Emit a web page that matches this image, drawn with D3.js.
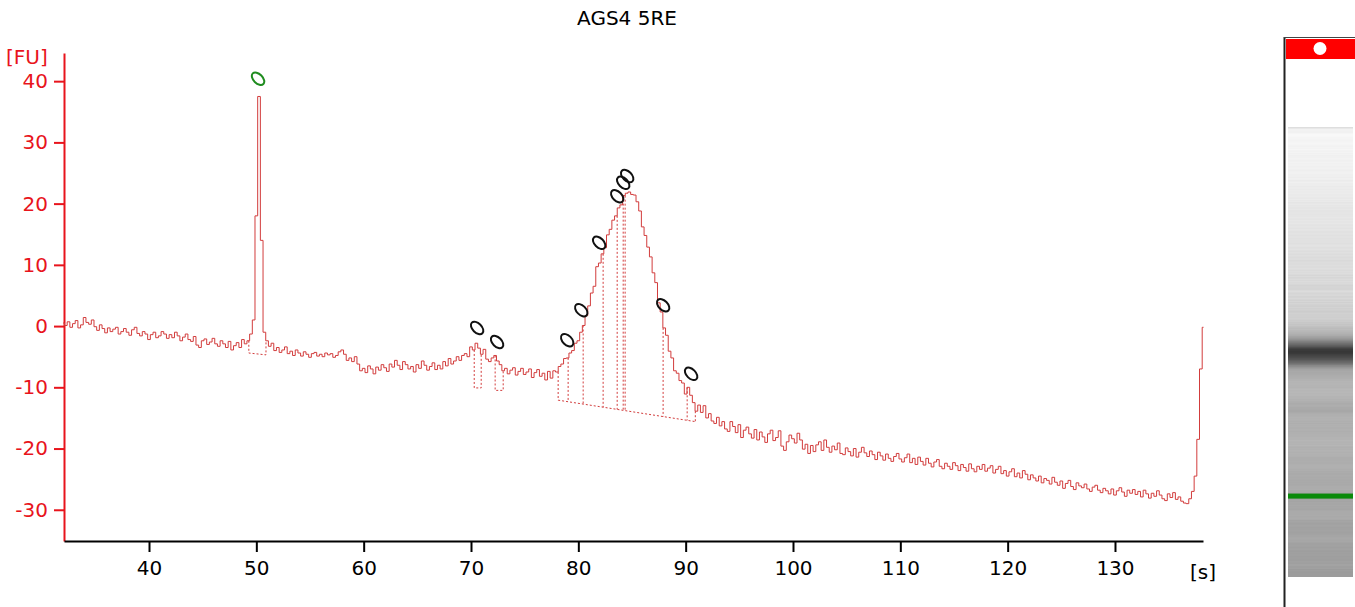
<!DOCTYPE html>
<html>
<head>
<meta charset="utf-8">
<script src="https://cdn.jsdelivr.net/npm/d3@7"></script>
<style>
  html, body { margin: 0; padding: 0; background: #ffffff; }
  svg { display: block; }
  text { font-family: "DejaVu Sans", Verdana, sans-serif; }
</style>
</head>
<body>
<svg id="chart" width="1355" height="607"></svg>
<script>
// ---------------- DATA ----------------
const title = "AGS4 5RE";
const startTime = 32.0;      // seconds, first sample
const sampleStep = 0.25;     // seconds between samples
const fu = [
  0.5, 0.1, 0.7, -0.2, 0.4, 0.9, -0.3, 0.2, 1.4, 0.6, 0.3, 1.0, -0.1, -0.7, 0.2, -0.4, -1.1, -0.3, -0.9, -0.5,
  -0.2, -1.3, -0.9, -0.4, -1.0, -1.5, -0.6, -0.2, -1.2, -1.6, -0.9, -1.3, -2.2, -1.4, -1.0, -1.9, -1.6, -0.9, -1.3, -2.0,
  -1.4, -1.9, -1.0, -1.6, -2.4, -1.8, -1.3, -2.2, -2.5, -1.7, -3.1, -3.5, -2.4, -2.1, -3.0, -2.6, -2.0, -2.9, -3.3, -2.4,
  -2.9, -3.5, -2.5, -3.9, -3.2, -2.7, -3.5, -2.2, -2.9, -2.4, -1.3, 1.0, 18.0, 37.5, 14.0, -1.0, -2.4, -3.3, -2.8, -4.0,
  -3.5, -4.3, -3.9, -3.4, -4.5, -4.1, -4.8, -3.9, -4.4, -4.9, -4.2, -4.6, -5.1, -4.5, -4.3, -4.9, -4.6, -5.0, -4.4, -4.7,
  -4.5, -5.1, -4.8, -4.2, -3.9, -4.6, -5.6, -5.2, -5.8, -5.0, -6.2, -7.3, -6.9, -7.6, -6.5, -7.0, -7.8, -6.7, -7.2, -6.3,
  -6.8, -7.4, -6.2, -6.7, -5.6, -6.4, -7.1, -5.8, -6.3, -7.0, -6.6, -7.5, -6.3, -6.9, -5.7, -6.4, -7.2, -6.6, -6.0, -7.1,
  -6.4, -7.0, -5.8, -6.5, -5.3, -6.2, -5.7, -5.0, -5.6, -4.8, -4.5, -5.0, -3.4, -3.9, -2.8, -3.6, -4.6, -3.8, -5.4, -5.8,
  -5.2, -4.8, -5.7, -6.3, -7.3, -6.9, -7.8, -7.2, -6.8, -8.0, -7.4, -6.9, -7.9, -7.5, -7.0, -8.4, -7.6, -7.1, -8.2, -7.7,
  -8.8, -7.4, -8.5, -7.3, -7.5, -6.6, -6.2, -5.3, -5.2, -4.4, -4.0, -2.8, -2.4, -1.0, 0.1, 1.7, 3.3, 5.4, 6.5, 9.7,
  10.3, 11.8, 12.8, 14.9, 15.8, 17.3, 18.0, 19.3, 19.8, 21.3, 21.7, 21.9, 21.5, 21.4, 20.3, 18.8, 16.2, 14.8, 12.9, 11.3,
  8.7, 7.1, 3.8, 2.3, -0.3, -1.5, -4.1, -5.2, -7.3, -7.7, -8.9, -9.3, -11.1, -10.0, -11.3, -12.5, -13.9, -12.9, -14.1, -13.0,
  -15.0, -14.3, -15.5, -15.9, -14.9, -16.3, -15.6, -16.8, -17.2, -15.6, -16.4, -17.4, -16.1, -18.2, -17.0, -16.5, -17.6, -18.3, -16.9, -18.6,
  -17.3, -18.1, -19.0, -17.6, -17.0, -18.7, -18.2, -17.1, -19.6, -20.3, -18.9, -17.8, -18.4, -19.1, -17.5, -18.6, -20.1, -19.3, -20.8, -19.5,
  -20.5, -19.4, -18.9, -20.3, -18.6, -19.8, -20.6, -19.6, -20.2, -19.1, -20.8, -21.0, -19.9, -20.5, -21.2, -20.0, -21.4, -20.6, -19.8, -20.7,
  -21.3, -20.4, -21.0, -21.8, -20.6, -21.2, -21.9, -20.9, -21.6, -22.1, -21.3, -20.8, -21.7, -22.2, -21.5, -20.9, -22.3, -21.6, -22.6, -21.4,
  -22.1, -22.7, -21.6, -22.4, -23.0, -22.2, -21.8, -22.9, -23.3, -22.4, -22.9, -23.4, -22.3, -22.8, -23.6, -22.6, -23.1, -23.7, -22.5, -23.3,
  -23.8, -22.9, -23.4, -22.6, -23.7, -23.2, -22.8, -24.0, -23.4, -22.9, -24.1, -23.6, -24.5, -23.8, -23.3, -24.6, -24.0, -24.8, -23.6, -24.2,
  -25.1, -24.3, -24.8, -25.3, -24.5, -25.6, -24.9, -25.2, -25.8, -24.7, -25.5, -26.0, -25.3, -26.5, -25.7, -25.2, -26.2, -26.7, -25.6, -26.1,
  -26.4, -25.8, -26.6, -27.0, -26.3, -26.0, -26.8, -27.2, -26.5, -26.9, -27.4, -26.6, -27.6, -26.9, -26.4, -27.1, -27.8, -26.8, -27.3, -26.7,
  -27.5, -27.0, -27.9, -26.8, -27.4, -28.1, -27.3, -27.8, -26.9, -27.6, -28.2, -28.5, -27.4, -28.0, -27.2, -28.3, -27.9, -28.6, -28.9, -29.0,
  -28.2, -27.0, -24.5, -18.5, -7.0, -0.2
];

const xTicks = [40, 50, 60, 70, 80, 90, 100, 110, 120, 130];
const yTicks = [-30, -20, -10, 0, 10, 20, 30, 40];
const xUnit = "[s]";
const yUnit = "[FU]";

// single-peak integration boxes (start, end, baseline at start, baseline at end)
const boxStart = [49.3, 70.3, 72.25];
const boxEnd   = [50.9, 70.95, 73.0];
const boxBaseStart = [-4.4, -10.1, -10.5];
const boxBaseEnd   = [-4.7, -10.1, -10.5];

// cluster of split peaks with a common baseline
const clusterCuts = [78.12, 79.05, 80.45, 82.31, 83.62, 84.18, 84.36, 87.9, 90.14, 90.9];
const clusterBaseStart = -12.1;
const clusterBaseEnd = -15.6;

// peak markers
const ladderMarkerTime = [50.16];
const ladderMarkerFU = [40.4];
const peakMarkerTime = [70.57, 72.43, 78.96, 80.27, 81.94, 83.62, 84.18, 84.55, 87.9, 90.51];
const peakMarkerFU   = [-0.3, -2.6, -2.3, 2.6, 13.6, 21.2, 23.4, 24.5, 3.4, -7.8];

// gel lane
const gelTimeRange = [30.7, 138.6];
const gelEndTime = 137.3;
const gelFUStops = [-29, -20, -10, 0, 22];
const gelGreys = ["#f8f8f8", "#dadada", "#bababa", "#9e9e9e", "#383838"];
const ladderTime = 50.1;

// ---------------- DRAW ----------------
const series = fu.map((v, i) => ({ t: startTime + i * sampleStep, v }));
const valueAt = t => {
  const i = Math.max(0, Math.min(fu.length - 1, Math.round((t - startTime) / sampleStep)));
  return fu[i];
};

const svg = d3.select("#chart");
const axisRed = "#e8141c";
const traceRed = "#d23c3c";
const font = "DejaVu Sans, Verdana, sans-serif";

const x = d3.scaleLinear().domain([32.08, 138.2]).range([64, 1203]);
const y = d3.scaleLinear().domain([-35.1, 44.6]).range([541, 53]);

// title
svg.append("text").attr("x", 627).attr("y", 25).attr("text-anchor", "middle")
  .attr("font-size", 20).attr("fill", "#000").text(title);

// y axis
const yAxis = svg.append("g").attr("transform", "translate(64,0)")
  .call(d3.axisLeft(y).tickValues(yTicks).tickFormat(d => String(d))
    .tickSize(10).tickSizeOuter(0).tickPadding(6));
yAxis.select(".domain").attr("stroke", axisRed).attr("stroke-width", 2);
yAxis.selectAll(".tick line").attr("stroke", axisRed).attr("stroke-width", 2);
yAxis.selectAll(".tick text").attr("fill", axisRed).attr("font-size", 20).attr("font-family", font);
svg.append("text").attr("x", 6).attr("y", 64).attr("font-size", 20).attr("fill", axisRed)
  .attr("font-family", font).text(yUnit);

// x axis
const xAxis = svg.append("g").attr("transform", "translate(0,541)")
  .call(d3.axisBottom(x).tickValues(xTicks).tickFormat(d => String(d))
    .tickSize(11).tickSizeOuter(0).tickPadding(9));
xAxis.select(".domain").attr("stroke", "#000").attr("stroke-width", 2);
xAxis.selectAll(".tick line").attr("stroke", "#000").attr("stroke-width", 2);
xAxis.selectAll(".tick text").attr("fill", "#000").attr("font-size", 20).attr("font-family", font);
svg.append("text").attr("x", 1190).attr("y", 579).attr("font-size", 20).attr("fill", "#000")
  .attr("font-family", font).text(xUnit);

// dotted annotations
const dots = svg.append("g").attr("stroke", traceRed).attr("stroke-width", 1)
  .attr("stroke-dasharray", "2,2").attr("fill", "none");
boxStart.forEach((s, i) => {
  const e = boxEnd[i];
  dots.append("path").attr("d", d3.line()([
    [x(s), y(valueAt(s))], [x(s), y(boxBaseStart[i])],
    [x(e), y(boxBaseEnd[i])], [x(e), y(valueAt(e))]
  ]));
});
const c0 = clusterCuts[0], c1 = clusterCuts[clusterCuts.length - 1];
const baseAt = t => clusterBaseStart + (clusterBaseEnd - clusterBaseStart) * (t - c0) / (c1 - c0);
dots.append("line").attr("x1", x(c0)).attr("y1", y(clusterBaseStart))
  .attr("x2", x(c1)).attr("y2", y(clusterBaseEnd));
clusterCuts.forEach(t => {
  dots.append("line").attr("x1", x(t)).attr("x2", x(t))
    .attr("y1", y(valueAt(t))).attr("y2", y(baseAt(t)));
});

// trace
svg.append("path").datum(series)
  .attr("fill", "none").attr("stroke", traceRed).attr("stroke-width", 1)
  .attr("d", d3.line().x(d => x(d.t)).y(d => y(d.v)).curve(d3.curveStep));

// markers
const mk = (times, vals, color) => {
  svg.append("g").selectAll("ellipse").data(times).join("ellipse")
    .attr("cx", 0).attr("cy", 0).attr("rx", 7.5).attr("ry", 4.6)
    .attr("transform", (t, i) => `translate(${x(t)},${y(vals[i])}) rotate(45)`)
    .attr("fill", "none").attr("stroke", color).attr("stroke-width", 2);
};
mk(ladderMarkerTime, ladderMarkerFU, "#1f8c1f");
mk(peakMarkerTime, peakMarkerFU, "#111");

// gel lane
const gy = d3.scaleLinear().domain(gelTimeRange).range([577, 127]);
const grey = d3.scaleLinear().domain(gelFUStops).range(gelGreys).clamp(true);
const gel = svg.append("g");
gel.append("rect").attr("x", 1288).attr("y", gy(gelTimeRange[1])).attr("width", 65)
  .attr("height", gy(gelEndTime) - gy(gelTimeRange[1]) + 0.5).attr("fill", "#f2f2f2");
gel.append("rect").attr("x", 1288).attr("y", gy(gelTimeRange[1])).attr("width", 65)
  .attr("height", 1.5).attr("fill", "#dedede");
gel.append("rect").attr("x", 1288).attr("y", gy(startTime)).attr("width", 65)
  .attr("height", gy(gelTimeRange[0]) - gy(startTime)).attr("fill", grey(fu[0]));
gel.selectAll("rect.b").data(series.filter(d => d.t < gelEndTime)).join("rect").attr("class", "b")
  .attr("x", 1288).attr("width", 65)
  .attr("y", d => gy(d.t + sampleStep))
  .attr("height", d => gy(d.t) - gy(d.t + sampleStep) + 0.5)
  .attr("fill", d => grey(d.v));
gel.append("rect").attr("x", 1288).attr("width", 65)
  .attr("y", gy(ladderTime + 0.6)).attr("height", gy(ladderTime - 0.6) - gy(ladderTime + 0.6))
  .attr("fill", "#0a8a0a");
// top red bar with white marker
gel.append("rect").attr("x", 1286).attr("y", 39).attr("width", 69).attr("height", 20).attr("fill", "#ff0000");
gel.append("circle").attr("cx", 1320).attr("cy", 48.5).attr("r", 6.5).attr("fill", "#fff");
// lane frame
gel.append("line").attr("x1", 1284.5).attr("x2", 1284.5).attr("y1", 37).attr("y2", 607)
  .attr("stroke", "#222").attr("stroke-width", 2);
gel.append("line").attr("x1", 1284).attr("x2", 1355).attr("y1", 37.5).attr("y2", 37.5)
  .attr("stroke", "#444").attr("stroke-width", 1);
</script>
</body>
</html>
